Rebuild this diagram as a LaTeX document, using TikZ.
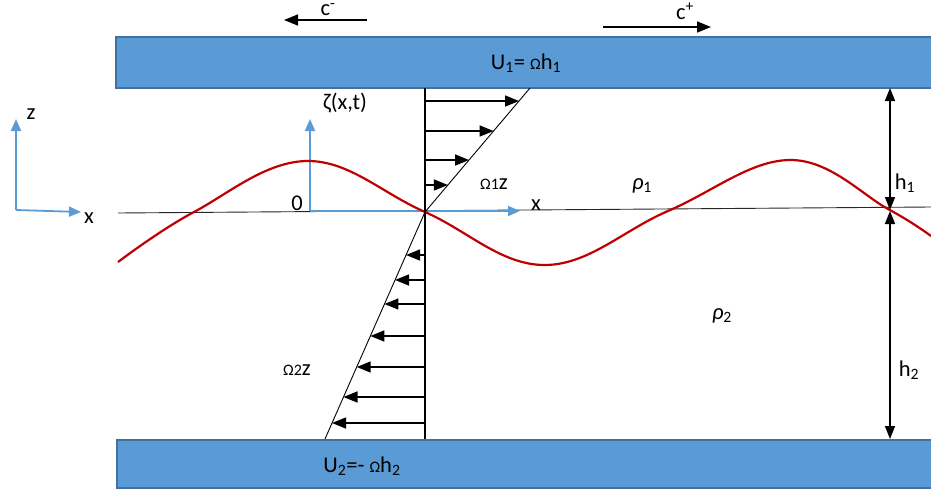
\documentclass[tikz,border=0pt]{standalone}
\usepackage{fontspec}
\setmainfont{Carlito}
\usetikzlibrary{arrows.meta}
\definecolor{plateblue}{HTML}{5B9BD5}
\definecolor{plateedge}{HTML}{41719C}
\definecolor{wavered}{HTML}{C00000}
\newcommand{\smallom}{{\fontsize{16}{16}\selectfont Ω}}
\newcommand{\sbs}[1]{\textsubscript{#1}}
\begin{document}
\begin{tikzpicture}[x=1pt,y=-1pt,font=\fontsize{22.5}{26}\selectfont,
  plate/.style={draw=plateedge,fill=plateblue,line width=2pt,inner sep=0pt,anchor=north west},
  lbl/.style={inner sep=0pt},
  bluearr/.style={draw=plateblue,line width=1.8pt,-{Triangle[length=12pt,width=10pt]}},
  vel/.style={line width=1.6pt,-{Triangle[length=14pt,width=11pt]}},
  dim/.style={line width=1.6pt,{Triangle[length=13pt,width=10pt]}-{Triangle[length=13pt,width=10pt]}},
  wave/.style={draw=wavered,line width=2.2pt}]
\useasboundingbox (0,0) rectangle (931,490);
% plates
\node[plate,minimum width=830pt,minimum height=51pt] (topplate) at (115,36) {};
\node[plate,minimum width=830pt,minimum height=48pt] (botplate) at (116,439) {};
\node[lbl] (U1) at (526,63) {U\sbs{1}= \smallom h\sbs{1}};
\node[lbl] (U2) at (362,466) {U\sbs{2}=- \smallom h\sbs{2}};
% wave speeds
\coordinate (cm0) at (367,20); \coordinate (cm1) at (284,20);
\draw[vel] (cm0) -- (cm1);
\node[lbl,anchor=north] (cmlab) at (328,3) {c\textsuperscript{-}};
\coordinate (cp0) at (603,27); \coordinate (cp1) at (711,27);
\draw[vel] (cp0) -- (cp1);
\node[lbl,anchor=north] (cplab) at (685,3) {c\textsuperscript{+}};
% reference axes (left)
\coordinate (ax0) at (16,210);
\coordinate (axz) at (16,119);
\coordinate (axx) at (81,212);
\draw[bluearr] (ax0) -- (axz);
\draw[bluearr] (ax0) -- (axx);
\node[lbl] (zlab) at (31,114) {z};
\node[lbl] (xlab) at (89,218) {x};
% horizontal mean interface line
\coordinate (ml0) at (118,213);
\coordinate (ml1) at (931,207);
\draw[line width=0.9pt,black!85] (ml0) -- (ml1);
% inner axes
\coordinate (o) at (310,211);
\coordinate (oz) at (310,119);
\coordinate (ox) at (520,211);
\draw[bluearr] (o) -- (oz);
\draw[bluearr] (o) -- (ox);
\node[lbl] (olab) at (297,203) {0};
\node[lbl] (ixlab) at (536,205) {x};
\node[lbl] (zetalab) at (345,103) {ζ(x,t)};
% wave
\draw[wave] plot[smooth,tension=0.65] coordinates {(118,262) (194,212) (308,161) (425,212) (545,265) (668,211) (790,160) (888,209) (931,236)};
% velocity profile
\coordinate (pc) at (425,212);
\coordinate (ptop) at (425,88);
\coordinate (pbot) at (425,439);
\coordinate (stop) at (530,88);
\coordinate (sbot) at (325,439);
\draw[line width=1.1pt] (ptop) -- (pbot);
\draw[line width=0.9pt] (pc) -- (stop);
\draw[line width=0.9pt] (pc) -- (sbot);
\foreach \yy [count=\i] in {101,131,160,185}{
  \coordinate (ua\i) at (426,\yy);
  \coordinate (ub\i) at ({425+(212-\yy)*0.847},\yy);
  \draw[vel] (ua\i) -- (ub\i);
}
\foreach \yy [count=\i] in {255,280,304,336,367,397,423}{
  \coordinate (la\i) at (425,\yy);
  \coordinate (lb\i) at ({425-(\yy-212)*0.4405},\yy);
  \draw[vel] (la\i) -- (lb\i);
}
\node[lbl] (om1) at (494,184) {\smallom{\fontsize{16}{16}\selectfont 1}z};
\node[lbl] (om2) at (297,370) {\smallom{\fontsize{16}{16}\selectfont 2}z};
% densities
\node[lbl] (rho1) at (642,186) {\textit{ρ}\sbs{1}};
\node[lbl] (rho2) at (722,316) {\textit{ρ}\sbs{2}};
% depths
\coordinate (h1a) at (890,88);
\coordinate (h1b) at (890,210);
\coordinate (h2a) at (890,211);
\coordinate (h2b) at (890,439);
\draw[dim] (h1b) -- (h1a);
\draw[dim] (h2a) -- (h2b);
\node[lbl] (h1lab) at (905,183) {h\sbs{1}};
\node[lbl] (h2lab) at (909,370) {h\sbs{2}};
\end{tikzpicture}
\end{document}
